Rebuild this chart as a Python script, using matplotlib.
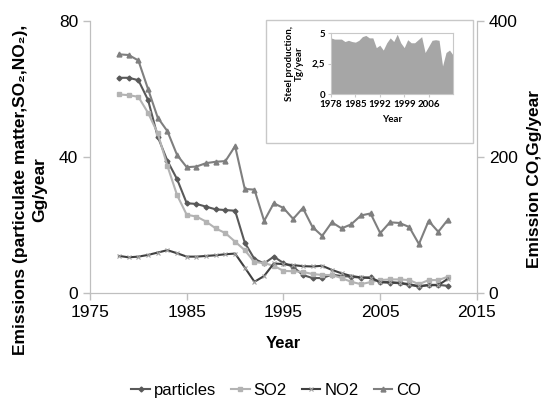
import numpy as np
from matplotlib import pyplot as plt
from matplotlib.patches import Rectangle
from matplotlib.ticker import FuncFormatter

plt.rcParams['font.family'] = ['Liberation Sans', 'DejaVu Sans']

# 数据
years = list(range(1978, 2013))
particles = [63.3, 63.3, 62.6, 56.8, 46.0, 38.9, 33.5, 26.4, 26.2, 25.4, 24.6, 24.4, 24.2,
             14.8, 10.0, 8.7, 10.7, 8.8, 7.7, 5.3, 4.4, 4.4, 5.4, 5.0, 4.8, 4.5, 4.6,
             3.2, 3.0, 2.9, 2.4, 1.9, 2.4, 2.4, 2.1]
so2 = [58.4, 58.2, 57.7, 53.0, 47.0, 37.4, 28.8, 23.0, 22.5, 21.0, 19.0, 17.6, 15.1,
       12.6, 9.1, 8.8, 8.0, 6.5, 6.4, 6.2, 5.6, 5.3, 5.3, 4.4, 3.3, 2.6, 3.2,
       3.8, 4.0, 4.0, 3.8, 2.6, 3.8, 3.8, 4.8]
no2 = [10.9, 10.5, 10.7, 11.2, 11.9, 12.6, 11.7, 10.7, 10.7, 10.9, 11.1, 11.4, 11.6,
       7.5, 3.3, 5.0, 8.7, 8.5, 8.2, 7.9, 7.8, 8.0, 6.8, 5.8, 5.0, 4.6, 4.4,
       3.2, 3.2, 3.0, 2.6, 2.0, 2.3, 2.3, 4.2]
co = [351, 350, 342, 300, 258, 238, 203, 185, 186, 191, 193, 194, 216,
      153, 152, 106, 132, 125, 109, 125, 97, 84, 104, 95, 101, 114, 117,
      88, 104, 103, 97, 72, 106, 90, 108]

steel_years = list(range(1978, 2014))
steel = [4.6, 4.5, 4.5, 4.5, 4.3, 4.4, 4.3, 4.25, 4.4, 4.7, 4.8, 4.6, 4.6,
         3.8, 4.0, 3.6, 4.2, 4.6, 4.3, 4.9, 4.2, 3.8, 4.45, 4.2, 4.2, 4.45, 4.7,
         3.4, 3.9, 4.4, 4.45, 4.4, 2.3, 3.4, 3.6, 3.2]
steel_ticks = [1978, 1985, 1992, 1999, 2006]

fig = plt.figure(figsize=(5.47, 4.01), dpi=100)
ax = fig.add_axes([0.1645, 0.2693, 0.7075, 0.6783])
ax2 = ax.twinx()

grey = '#bfbfbf'
ax.plot(years, particles, color='#595959', lw=1.5, marker='D', ms=2.5, label='particles')
ax.plot(years, so2, color='#b3b3b3', lw=1.5, marker='s', ms=3.5, label='SO2')
ax.plot(years, no2, color='#404040', lw=1.5, marker='x', ms=3.5, mec='#a0a0a0', mew=0.8, label='NO2')
ax2.plot(years, co, color='#7f7f7f', lw=1.5, marker='^', ms=3.5, label='CO')

ax.set_xlim(1975, 2015)
ax.set_ylim(0, 80)
ax2.set_ylim(0, 400)
ax.set_xticks([1975, 1985, 1995, 2005, 2015])
ax.set_yticks([0, 40, 80])
ax2.set_yticks([0, 200, 400])
for a in (ax, ax2):
    a.spines['top'].set_visible(False)
    for s in ('left', 'right', 'bottom'):
        a.spines[s].set_color(grey)
    a.tick_params(labelsize=12.5, color=grey, length=5, width=1)
ax.set_xlabel('Year', fontsize=12, fontweight='bold', labelpad=12)
ax.set_ylabel('Emissions (particulate matter,SO₂,NO₂),\nGg/year', fontsize=12.5,
              fontweight='bold', linespacing=1.35)
ax.yaxis.set_label_coords(-0.11, 0.38)
ax2.set_ylabel('Emission CO,Gg/year', fontsize=12.5, fontweight='bold')
ax2.yaxis.set_label_coords(1.13, 0.42)

h1, l1 = ax.get_legend_handles_labels()
h2, l2 = ax2.get_legend_handles_labels()
fig.legend(h1 + h2, l1 + l2, loc='center', bbox_to_anchor=(0.505, 0.027), ncol=4,
           frameon=False, fontsize=12, handlelength=1.1, handletextpad=0.25,
           columnspacing=0.9)

# 嵌入图：钢产量
box = Rectangle((266 / 547, 1 - 143 / 401), 207 / 547, 123 / 401, transform=fig.transFigure,
                facecolor='white', edgecolor='#c8c8c8', lw=1, zorder=5)
fig.patches.append(box)
ins = fig.add_axes([331 / 547, 1 - 94 / 401, 122 / 547, 61 / 401], zorder=6)
ins.fill_between(steel_years, steel, color='#a6a6a6', lw=0)
ins.set_xlim(1978, 2013)
ins.set_ylim(0, 5)
ins.set_yticks([0, 2.5, 5])
ins.set_xticks(steel_ticks)
ins.yaxis.set_major_formatter(FuncFormatter(lambda v, p: ('%g' % v).replace('.', ',')))
for s in ins.spines.values():
    s.set_color('#c8c8c8')
ins.tick_params(labelsize=7, length=2, color='#c8c8c8', pad=2)
for t in ins.get_xticklabels() + ins.get_yticklabels():
    t.set_fontfamily('Lato')
    t.set_fontweight('bold')
ins.set_xlabel('Year', fontsize=7, fontweight='bold', fontfamily='Lato', labelpad=5)
ins.set_ylabel('Steel production,\nTg/year', fontsize=7, fontweight='bold', fontfamily='Lato',
               linespacing=1.1, labelpad=6)

fig.savefig('out.png', dpi=100)
